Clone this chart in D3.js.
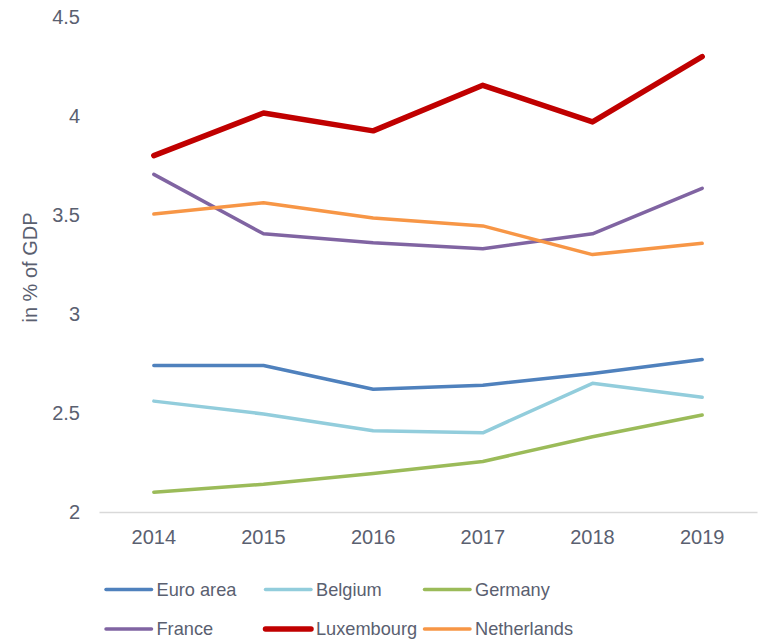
<!DOCTYPE html>
<html>
<head>
<meta charset="utf-8">
<script src="https://cdn.jsdelivr.net/npm/d3@7"></script>
<style>
  html, body { margin: 0; padding: 0; background: #fff; }
  svg { display: block; font-family: "Liberation Sans", Arial, sans-serif; }
</style>
</head>
<body>
<svg id="chart" width="759" height="640"></svg>
<script>
// Years on the horizontal axis
const years = ["2014", "2015", "2016", "2017", "2018", "2019"];
// Y-axis tick values
const yTicks = [2, 2.5, 3, 3.5, 4, 4.5];

// Series values, in % of GDP
const euroArea    = [2.74, 2.74, 2.62, 2.64, 2.70, 2.77];
const belgium     = [2.56, 2.495, 2.41, 2.40, 2.65, 2.58];
const germany     = [2.10, 2.14, 2.195, 2.255, 2.38, 2.49];
const france      = [3.705, 3.405, 3.36, 3.33, 3.405, 3.635];
const luxembourg  = [3.80, 4.015, 3.925, 4.155, 3.97, 4.30];
const netherlands = [3.505, 3.562, 3.485, 3.445, 3.30, 3.357];

const seriesNames = ["Euro area", "Belgium", "Germany", "France", "Luxembourg", "Netherlands"];
const seriesValues = [euroArea, belgium, germany, france, luxembourg, netherlands];
const seriesColors = ["#4f81bd", "#92cddc", "#9bbb59", "#8064a2", "#c00000", "#f79646"];
const seriesWidths = [3.5, 3.5, 3.5, 3.5, 5.5, 3.5];

const series = seriesNames.map((name, i) => ({
  name, values: seriesValues[i], color: seriesColors[i], width: seriesWidths[i]
}));

const svg = d3.select("#chart");
const textColor = "#5a6070";

const x = d3.scaleBand().domain(years).range([99, 757]).padding(0);
const y = d3.scaleLinear().domain([2, 4.5]).range([512, 17]);
const cx = d => x(d) + x.bandwidth() / 2;

// Category axis along the bottom
const xAxis = svg.append("g")
  .attr("transform", `translate(0,${y(2)})`)
  .call(d3.axisBottom(x).tickSize(0).tickPadding(18));
xAxis.select(".domain").attr("stroke", "#d9d9d9").attr("stroke-width", 1.5);
xAxis.selectAll("text")
  .attr("fill", textColor)
  .style("font-size", "20px")
  .style("font-family", "Liberation Sans, Arial, sans-serif");

// Value axis labels (no axis line)
const yAxis = svg.append("g")
  .attr("transform", "translate(99,0)")
  .call(d3.axisLeft(y).tickValues(yTicks).tickFormat(d3.format("")).tickSize(0).tickPadding(19));
yAxis.select(".domain").remove();
yAxis.selectAll("text")
  .attr("fill", textColor)
  .style("font-size", "20px")
  .style("font-family", "Liberation Sans, Arial, sans-serif");

// Axis title
svg.append("text")
  .attr("transform", `translate(30,${(y(4.5) + y(2)) / 2 + 3}) rotate(-90)`)
  .attr("text-anchor", "middle")
  .attr("dominant-baseline", "central")
  .attr("fill", textColor)
  .style("font-size", "20px")
  .text("in % of GDP");

// Lines
const line = d3.line()
  .x((d, i) => cx(years[i]))
  .y(d => y(d));

svg.append("g").selectAll("path")
  .data(series)
  .join("path")
  .attr("d", d => line(d.values))
  .attr("fill", "none")
  .attr("stroke", d => d.color)
  .attr("stroke-width", d => d.width)
  .attr("stroke-linecap", "round")
  .attr("stroke-linejoin", "round");

// Legend: two rows of three
const legend = svg.append("g");
const colX = [106, 265.5, 424.5];
const rowY = [589.5, 629];
series.forEach((s, i) => {
  const g = legend.append("g")
    .attr("transform", `translate(${colX[i % 3]},${rowY[Math.floor(i / 3)]})`);
  g.append("line")
    .attr("x1", 0).attr("x2", 45.5)
    .attr("y1", 0).attr("y2", 0)
    .attr("stroke", s.color)
    .attr("stroke-width", s.width)
    .attr("stroke-linecap", "round");
  g.append("text")
    .attr("x", 50.5)
    .attr("y", 0)
    .attr("dy", "0.35em")
    .attr("fill", textColor)
    .style("font-size", "18.2px")
    .text(s.name);
});
</script>
</body>
</html>
